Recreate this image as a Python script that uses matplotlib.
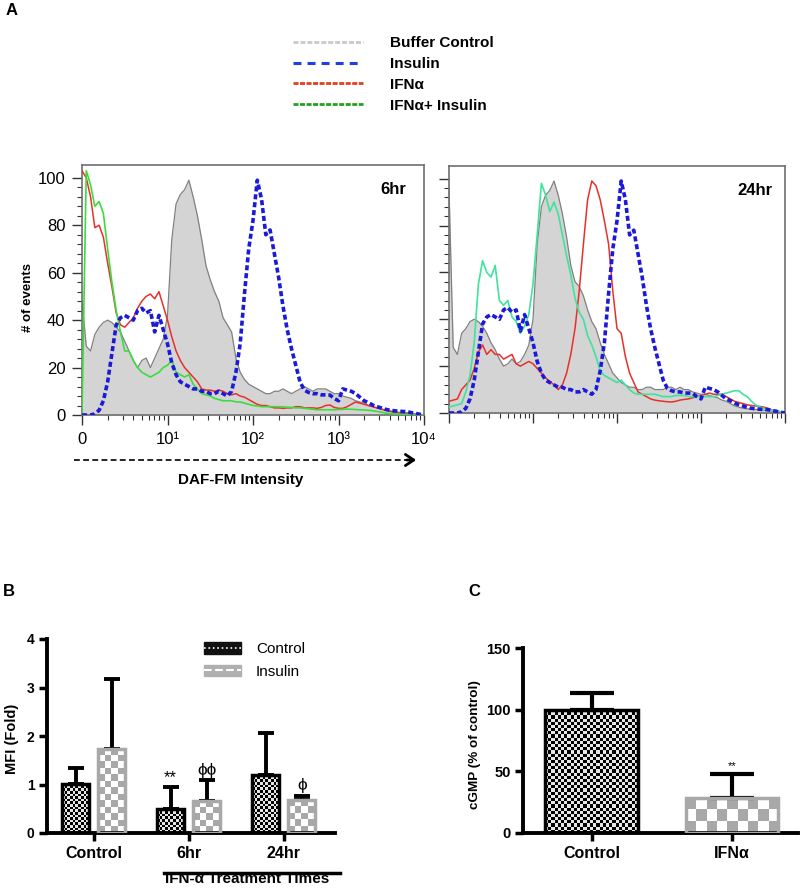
import numpy as np
import matplotlib
matplotlib.use('Agg')
import matplotlib.pyplot as plt
from matplotlib.colors import ListedColormap
from matplotlib.lines import Line2D
from matplotlib.patches import Patch

plt.rcParams['font.family'] = ['Liberation Sans', 'DejaVu Sans']

# ---------- panel A : DAF-FM histograms (x in log decades, 0 .. 10^4) ----------
decade_pos = np.linspace(0, 4, 81)

buffer_6hr = [48, 29, 27, 34, 37, 39, 40, 39, 37, 35,
              31, 27, 23, 20, 23, 24, 20, 24, 28, 32,
              42, 74, 89, 93, 95, 99, 92, 84, 74, 63,
              57, 52, 48, 41, 38, 35, 24, 18, 15, 13,
              12, 11, 10, 9, 9, 10, 10, 11, 10, 9,
              10, 11, 12, 11, 10, 11, 11, 11, 10, 9,
              9, 8, 7.5, 7, 6, 5.5, 5, 4, 3.5, 3,
              2.5, 2, 1.8, 1.5, 1.2, 1, 1, 0.8, 0.5, 0.3,
              0]
buffer_24hr = [96, 28, 25, 34, 36, 39, 40, 39, 37, 34,
               30, 27, 23, 20, 21, 23, 21, 22, 25, 29,
               40, 72, 88, 93, 95, 99, 93, 85, 75, 63,
               56, 54, 50, 44, 39, 36, 30, 25, 21, 17,
               15, 13, 12, 11, 11, 10, 10, 11, 11, 10,
               10, 10, 11, 11, 10, 11, 10, 10, 9, 8.5,
               8, 8, 7.5, 7, 6.5, 5.5, 5, 4, 3, 2.5,
               2, 1.8, 1.6, 1.5, 1.4, 1.2, 1, 0.8, 0.5, 0.3,
               0]
insulin = [0, 0, 0, 0.5, 2, 6, 14, 26, 38, 41,
           42, 41, 40, 44, 45, 43, 44, 35, 42, 36,
           30, 22, 17, 14, 13, 12, 11, 11, 10, 10,
           9, 9, 10, 9, 8, 10, 18, 30, 51, 70,
           82, 99, 91, 76, 78, 68, 58, 46, 36, 28,
           21, 14, 10.5, 9.5, 9, 9, 8.5, 8.5, 8.4, 7,
           6, 11, 10.5, 10, 9, 7.5, 6, 5.2, 4.2, 3.5,
           3, 2.4, 2, 1.8, 1.6, 1.5, 1.4, 1, 0.7, 0.3,
           0]
ifn_6hr = [103, 100, 92, 79, 80, 75, 64, 54, 43, 38,
           37, 39, 41, 45, 48, 50, 51, 49, 52, 46,
           40, 33, 27, 23, 20, 18, 16, 14, 11, 10.5,
           10.5, 10, 10.5, 10, 9, 8.5, 9, 8, 7.5, 6.5,
           5.5, 4.5, 4, 4, 3.5, 3, 3, 2.8, 3, 3,
           3.5, 3.5, 3, 3, 3, 2.8, 3.2, 4, 4.2, 3.2,
           2.8, 2.8, 3.5, 4.5, 5.5, 5, 4.5, 4, 3.5, 3,
           2.5, 2, 1.5, 1.2, 0.8, 0.6, 0.4, 0.3, 0.2, 0.1,
           0]
combo_6hr = [0, 103, 97, 88, 90, 85, 70, 56, 44, 35,
             27, 27, 23, 20, 18, 17, 16, 17, 18, 20,
             21, 23, 18, 17, 16, 17, 13, 11, 9, 8.5,
             8, 7, 6.5, 6, 6, 6, 5.5, 5.5, 5, 4.5,
             4, 3.8, 3.5, 3.5, 3.5, 3.5, 3.5, 3.4, 3.3, 3.2,
             3, 3, 2.8, 2.6, 2.4, 2.2, 2.2, 2.2, 2.2, 2.2,
             2.3, 2.4, 2.5, 2.4, 2.3, 2.2, 2.1, 2, 1.8, 1.5,
             1.2, 0.8, 0.6, 0.5, 0.4, 0.3, 0.2, 0.2, 0.1, 0.1,
             0]
ifn_24hr = [5, 5.5, 6, 10, 12, 14, 19, 26, 29, 25,
            27, 25, 25, 23, 24, 25, 21, 20, 21, 22,
            21, 19, 17, 15, 13.5, 12, 10, 12, 17, 25,
            36, 52, 72, 91, 99, 97, 91, 82, 72, 52,
            36, 34, 24, 17, 13, 9, 8, 7, 6, 5.5,
            5.2, 5, 4.8, 4.7, 5, 5.5, 5.8, 6, 6.5, 7,
            7.5, 8, 8.5, 8, 8, 8, 7, 6, 5, 4.5,
            4, 3.5, 3.2, 3, 2.8, 2.5, 2, 1.2, 0.5, 0.2,
            0]
combo_24hr = [2.5, 3, 3.5, 4, 9, 16, 30, 55, 65, 60,
              58, 63, 48, 46, 48, 41, 39, 34, 37, 42,
              55, 76, 98, 93, 86, 90, 85, 76, 67, 59,
              49, 43, 40, 33, 29, 24, 18, 16, 15, 14,
              13, 14, 12, 10, 8.5, 8, 8, 8, 8, 8,
              7.5, 7, 7, 7, 7.5, 7.5, 7.5, 7, 7, 7,
              7, 7, 7, 7, 7.5, 8, 8.5, 9, 9.5, 9.5,
              8, 7, 5, 3.5, 2.5, 2, 1.6, 1.2, 1, 0.5,
              0.2]
x_tick_labels = ['0', '10¹', '10²', '10³', '10⁴']

# ---------- panel B : MFI fold ----------
mfi_groups = ['Control', '6hr', '24hr']
mfi_control = [1.02, 0.50, 1.20]
mfi_control_err = [0.31, 0.45, 0.87]
mfi_insulin = [1.74, 0.67, 0.69]
mfi_insulin_err = [1.43, 0.42, 0.08]
mfi_control_marks = ['', '**', '']
mfi_insulin_marks = ['', 'ϕϕ', 'ϕ']

# ---------- panel C : cGMP ----------
cgmp_groups = ['Control', 'IFNα']
cgmp_values = [100, 28.5]
cgmp_err = [13.5, 19.5]
cgmp_marks = ['', '**']

fig = plt.figure(figsize=(8, 8.9), dpi=100)
W, H = 800, 890


def fig_rect(x0, y0, x1, y1):
    # pixel box (top-left origin) -> figure fraction rect
    return [x0 / W, 1 - y1 / H, (x1 - x0) / W, (y1 - y0) / H]


def style_flow(ax, labels):
    ax.set_xlim(0, 4)
    ax.set_ylim(0, 105.4)
    for s in ax.spines.values():
        s.set_color('#6e6e6e')
        s.set_linewidth(1.2)
    ax.set_xticks(range(5))
    ax.set_xticks([d + np.log10(k) for d in range(4) for k in range(2, 10)], minor=True)
    ax.set_yticks(range(0, 101, 20))
    ax.set_yticks(range(0, 101, 4), minor=True)
    ax.tick_params(which='major', length=7, width=1, color='#333333', labelsize=12, pad=5)
    ax.tick_params(which='minor', length=3.5, width=0.8, color='#333333')
    if labels:
        ax.set_xticklabels(x_tick_labels)
    else:
        ax.tick_params(labelleft=False, labelbottom=False)


def draw_flow(ax, buffer, ifn, combo, combo_color, tag):
    ax.fill_between(decade_pos, buffer, color='#d4d4d4', lw=0, zorder=1)
    ax.plot(decade_pos, buffer, color='#808080', lw=0.9, zorder=2)
    ax.plot(decade_pos, ifn, color='#e8302a', lw=1.1, zorder=3)
    ax.plot(decade_pos, combo, color=combo_color, lw=1.2, zorder=4)
    ax.plot(decade_pos, insulin, color='#1a1ad8', lw=2.6, ls=(0, (1.4, 0.8)), zorder=5)
    ax.text(0.91, 0.9, tag, transform=ax.transAxes, ha='center', va='center',
            fontsize=12, fontweight='bold')


ax_a1 = fig.add_axes(fig_rect(82, 165, 424, 415))
draw_flow(ax_a1, buffer_6hr, ifn_6hr, combo_6hr, '#3ddc3d', '6hr')
style_flow(ax_a1, True)
ax_a1.set_ylabel('# of events', fontsize=9.5, fontweight='bold')
ax_a1.yaxis.set_label_coords(-0.14, 0.47)

ax_a2 = fig.add_axes(fig_rect(449, 166, 785, 413))
draw_flow(ax_a2, buffer_24hr, ifn_24hr, combo_24hr, '#3ee39c', '24hr')
style_flow(ax_a2, False)

# legend of panel A
leg_handles = [Line2D([], [], color='#c9c9c9', lw=2, ls=(0, (1.8, 0.7))),
               Line2D([], [], color='#1f3fe0', lw=2.2, ls=(0, (2.6, 2.0))),
               Line2D([], [], color='#e0401c', lw=2, ls=(0, (1.8, 0.55))),
               Line2D([], [], color='#23a023', lw=2, ls=(0, (1.8, 0.55)))]
fig.legend(leg_handles, ['Buffer Control', 'Insulin', 'IFNα', 'IFNα+ Insulin'],
           loc='upper left', bbox_to_anchor=(293 / W, 1 - 36 / H), frameon=False,
           borderpad=0, borderaxespad=0, handlelength=4.6, handletextpad=1.75,
           labelspacing=0.45, prop={'size': 11, 'weight': 'bold'})

# dashed intensity arrow
ya = 1 - 460 / H
fig.add_artist(Line2D([74 / W, 412 / W], [ya, ya], transform=fig.transFigure,
                      color='black', lw=1.2, ls=(0, (3.5, 2))))
fig.add_artist(matplotlib.patches.FancyArrowPatch(
    (404 / W, ya), (419 / W, ya), transform=fig.transFigure,
    arrowstyle='->,head_length=6,head_width=4', lw=2, color='black'))
fig.text(241 / W, 1 - 480 / H, 'DAF-FM Intensity', ha='center', va='center',
         fontsize=11, fontweight='bold')


def checker(ax, bar, cell_px, dark, light):
    x0, y0 = bar.get_x(), bar.get_y()
    w, h = bar.get_width(), bar.get_height()
    (px0, py0), (px1, py1) = ax.transData.transform([(x0, y0), (x0 + w, y0 + h)])
    nx = max(1, int(round((px1 - px0) / cell_px)))
    ny = max(1, int(round((py1 - py0) / cell_px)))
    board = np.indices((ny, nx)).sum(axis=0) % 2
    ax.imshow(board, extent=(x0, x0 + w, y0, y0 + h), origin='lower',
              cmap=ListedColormap([dark, light]), vmin=0, vmax=1,
              interpolation='nearest', aspect='auto', zorder=1)


def style_bar_axes(ax):
    for side in ('top', 'right'):
        ax.spines[side].set_visible(False)
    for side in ('left', 'bottom'):
        ax.spines[side].set_linewidth(2.8)
    ax.tick_params(width=2.5, length=6, pad=3)


# ---------- panel B ----------
ax_b = fig.add_axes(fig_rect(47, 639, 335, 833))
xb = np.arange(len(mfi_groups))
ax_b.set_xlim(-0.49, 2.54)
ax_b.set_ylim(0, 4)
bars_c = ax_b.bar(xb - 0.19, mfi_control, 0.28, facecolor='none', edgecolor='black', lw=2.5, zorder=3)
bars_i = ax_b.bar(xb + 0.19, mfi_insulin, 0.28, facecolor='none', edgecolor='#a8a8a8', lw=2.5, zorder=3)
for b in bars_c:
    checker(ax_b, b, 2.6, '#000000', '#e6e6e6')
for b in bars_i:
    checker(ax_b, b, 6.5, '#a8a8a8', '#ffffff')
ax_b.errorbar(xb - 0.19, mfi_control, yerr=[np.zeros(3), mfi_control_err], fmt='none',
              ecolor='black', elinewidth=2.8, capsize=6, capthick=2.8, zorder=2)
ax_b.errorbar(xb + 0.19, mfi_insulin, yerr=[np.zeros(3), mfi_insulin_err], fmt='none',
              ecolor='black', elinewidth=2.8, capsize=6, capthick=2.8, zorder=2)
for i in range(len(mfi_groups)):
    if mfi_control_marks[i]:
        ax_b.text(xb[i] - 0.19, mfi_control[i] + mfi_control_err[i] + 0.04, mfi_control_marks[i],
                  ha='center', va='bottom', fontsize=12)
    if mfi_insulin_marks[i]:
        ax_b.text(xb[i] + 0.19, mfi_insulin[i] + mfi_insulin_err[i] + 0.05, mfi_insulin_marks[i],
                  ha='center', va='bottom', fontsize=12.5)
style_bar_axes(ax_b)
ax_b.set_xticks(xb)
ax_b.set_xticklabels(mfi_groups, fontsize=11.5, fontweight='bold')
ax_b.set_yticks(range(5))
ax_b.set_yticklabels([str(v) for v in range(5)], fontsize=10, fontweight='bold')
ax_b.set_ylabel('MFI (Fold)', fontsize=10.5, fontweight='bold')
ax_b.yaxis.set_label_coords(-0.097, 0.485)
ax_b.legend(handles=[(Patch(facecolor='#111111', edgecolor='#111111'),
                      Line2D([], [], color='white', lw=1.2, ls=':')),
                     (Patch(facecolor='#b0b0b0', edgecolor='#b0b0b0'),
                      Line2D([], [], color='white', lw=1.5, ls='--'))],
            labels=['Control', 'Insulin'], loc='upper left',
            bbox_to_anchor=(204 / W, 1 - 642 / H), bbox_transform=fig.transFigure,
            frameon=False, borderpad=0, borderaxespad=0, handlelength=2.4,
            handleheight=0.8, handletextpad=1.0, labelspacing=0.55, fontsize=11)
yl = 1 - 872.5 / H
fig.add_artist(Line2D([164 / W, 340 / W], [yl, yl], transform=fig.transFigure,
                      color='black', lw=2.5))
fig.text(247 / W, 1 - 872 / H, 'IFN-α Treatment Times', ha='center', va='top',
         fontsize=11, fontweight='bold')

# ---------- panel C ----------
ax_c = fig.add_axes(fig_rect(523, 648, 798, 833))
xc = np.arange(len(cgmp_groups))
ax_c.set_xlim(-0.49, 1.47)
ax_c.set_ylim(0, 150)
bars_cg = ax_c.bar(xc, cgmp_values, 0.66, facecolor='none',
                   edgecolor=['black', '#a8a8a8'], lw=2.5, zorder=3)
checker(ax_c, bars_cg[0], 3.2, '#000000', '#e6e6e6')
checker(ax_c, bars_cg[1], 10.5, '#a8a8a8', '#ffffff')
ax_c.errorbar(xc, cgmp_values, yerr=[np.zeros(2), cgmp_err], fmt='none',
              ecolor='black', elinewidth=3, capsize=16, capthick=3, zorder=2)
for i in range(len(cgmp_groups)):
    if cgmp_marks[i]:
        ax_c.text(xc[i], cgmp_values[i] + cgmp_err[i] + 2, cgmp_marks[i],
                  ha='center', va='bottom', fontsize=8)
style_bar_axes(ax_c)
ax_c.set_xticks(xc)
ax_c.set_xticklabels(cgmp_groups, fontsize=11.5, fontweight='bold')
ax_c.set_yticks([0, 50, 100, 150])
ax_c.set_yticklabels(['0', '50', '100', '150'], fontsize=10.5, fontweight='bold')
ax_c.set_ylabel('cGMP (% of control)', fontsize=9.7, fontweight='bold')
ax_c.yaxis.set_label_coords(-0.153, 0.476)

# panel letters
fig.text(6 / W, 1 - 3 / H, 'A', fontsize=12, fontweight='bold', va='top')
fig.text(3 / W, 1 - 584 / H, 'B', fontsize=12, fontweight='bold', va='top')
fig.text(468 / W, 1 - 584 / H, 'C', fontsize=12, fontweight='bold', va='top')

fig.savefig('out.png', dpi=100)
